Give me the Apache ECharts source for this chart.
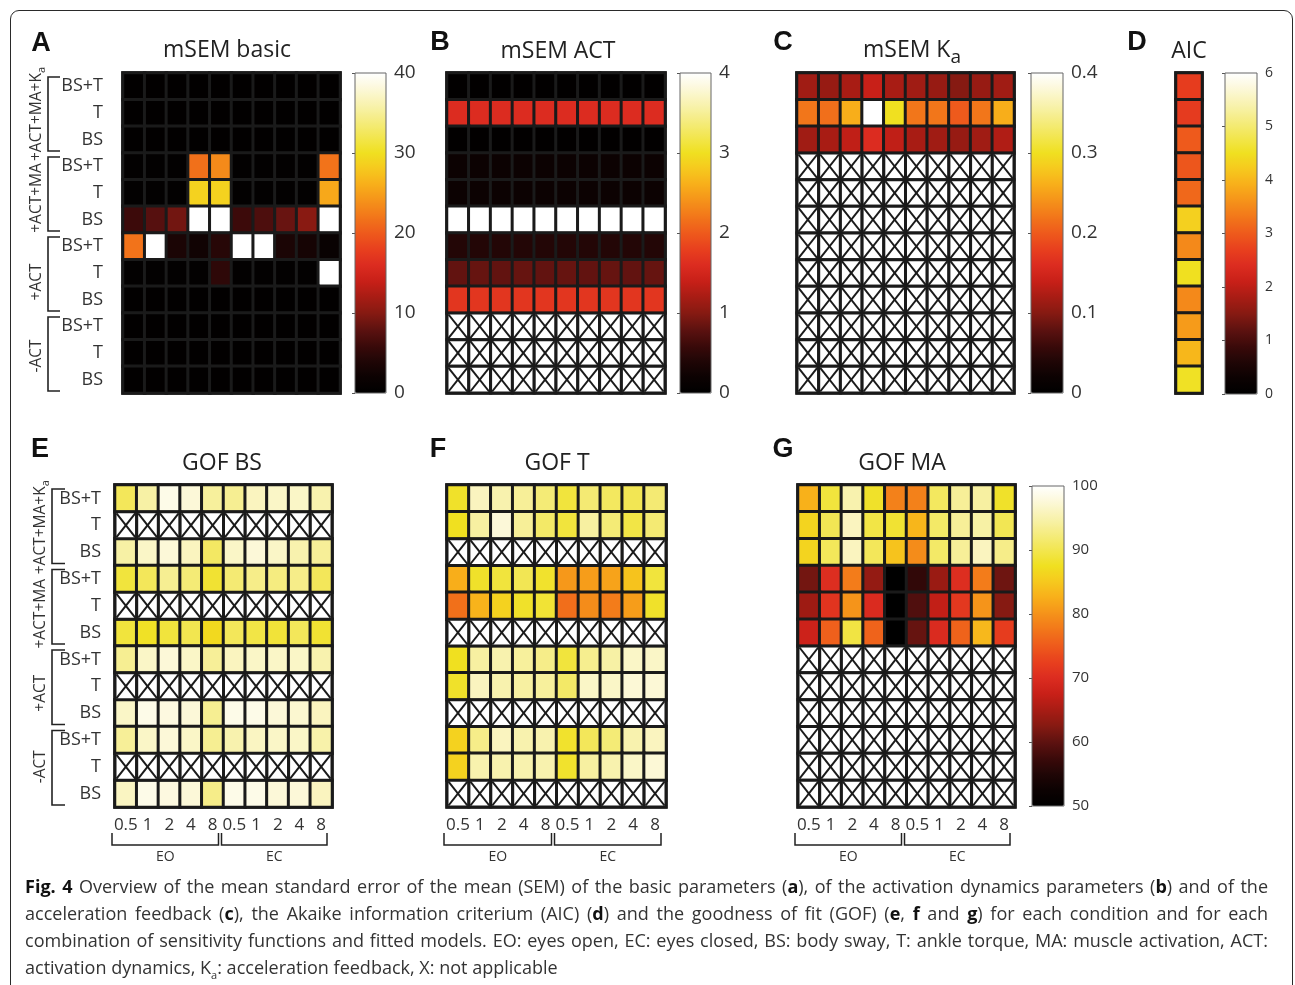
<!DOCTYPE html>
<html><head><meta charset="utf-8">
<script src="https://cdn.jsdelivr.net/npm/echarts@6/dist/echarts.min.js"></script>
<style>
html,body{margin:0;padding:0;background:#fff;}
#chart{position:absolute;left:0;top:0;width:1295px;height:985px;}
#frame{position:absolute;left:10px;top:10px;width:1283px;height:985px;border:1.5px solid #2a2a2a;border-radius:9px;box-sizing:border-box;pointer-events:none;}
#caption{position:absolute;left:25px;top:873px;width:1243px;font-family:'Open Sans',sans-serif;color:#333;font-size:17px;}
.ln{white-space:nowrap;text-align:justify;text-align-last:justify;height:27px;line-height:27px;}
.ln.last{text-align-last:left;}
.ln b{color:#111;}
.ln sub{font-size:11px;line-height:0;}
</style></head>
<body>
<div id="chart"></div>
<div id="frame"></div>
<div id="caption">
<div class="ln"><b>Fig. 4</b> Overview of the mean standard error of the mean (SEM) of the basic parameters (<b>a</b>), of the activation dynamics parameters (<b>b</b>) and of the</div>
<div class="ln">acceleration feedback (<b>c</b>), the Akaike information criterium (AIC) (<b>d</b>) and the goodness of fit (GOF) (<b>e</b>, <b>f</b> and <b>g</b>) for each condition and for each</div>
<div class="ln">combination of sensitivity functions and fitted models. EO: eyes open, EC: eyes closed, BS: body sway, T: ankle torque, MA: muscle activation, ACT:</div>
<div class="ln last">activation dynamics, K<sub>a</sub>: acceleration feedback, X: not applicable</div>
</div>
<script>
// ---------------- DATA ----------------
const colLabels = ['0.5','1','2','4','8','0.5','1','2','4','8'];
const conditionLabels = ['EO','EC'];
const rowLabels = ['BS+T','T','BS','BS+T','T','BS','BS+T','T','BS','BS+T','T','BS'];
const groupLabels = ['+ACT+MA+K{s|a}','+ACT+MA','+ACT','-ACT'];
const panelTitles = ['mSEM basic','mSEM ACT','mSEM K{s|a}','AIC','GOF BS','GOF T','GOF MA'];
const panelLetters = ['A','B','C','D','E','F','G'];

const ticksBasic = [0,10,20,30,40];
const ticksAct = [0,1,2,3,4];
const ticksKa = [0,0.1,0.2,0.3,0.4];
const ticksAic = [0,1,2,3,4,5,6];
const ticksGof = [50,60,70,80,90,100];

// null = not applicable (X)
const semBasic = [
  [0.3,0.3,0.3,0.3,0.3,0.3,0.3,0.3,0.3,0.3],
  [0.3,0.3,0.3,0.3,0.3,0.3,0.3,0.3,0.3,0.3],
  [0.3,0.3,0.3,0.3,0.3,0.3,0.3,0.3,0.3,0.3],
  [0.5,0.5,0.5,21.6,23.4,0.5,0.5,0.5,0.5,21.8],
  [0.5,0.5,0.5,28.8,28.8,0.5,0.5,0.5,0.5,25.6],
  [6,7.5,9,40,40,6,7,8.5,10.2,40],
  [21.8,40,3.5,2.5,4.5,40,40,3.5,3,1.5],
  [0.5,0.5,0.5,0.5,5,0.5,0.5,0.5,0.5,40],
  [0.3,0.3,0.3,0.3,0.3,0.3,0.3,0.3,0.3,0.3],
  [0.3,0.3,0.3,0.3,0.3,0.3,0.3,0.3,0.3,0.3],
  [0.3,0.3,0.3,0.3,0.3,0.3,0.3,0.3,0.3,0.3],
  [0.3,0.3,0.3,0.3,0.3,0.3,0.3,0.3,0.3,0.3]
];
const semAct = [
  [0.03,0.03,0.03,0.03,0.03,0.03,0.03,0.03,0.03,0.03],
  [1.6,1.6,1.6,1.6,1.6,1.6,1.6,1.6,1.6,1.6],
  [0.04,0.04,0.04,0.04,0.04,0.04,0.04,0.04,0.04,0.04],
  [0.2,0.2,0.2,0.2,0.2,0.2,0.2,0.2,0.2,0.2],
  [0.2,0.2,0.2,0.2,0.2,0.2,0.2,0.2,0.2,0.2],
  [4,4,4,4,4,4,4,4,4,4],
  [0.42,0.42,0.42,0.42,0.42,0.42,0.42,0.42,0.42,0.42],
  [0.82,0.84,0.82,0.84,0.82,0.84,0.82,0.84,0.82,0.84],
  [1.7,1.7,1.7,1.7,1.7,1.7,1.7,1.7,1.7,1.7],
  [null,null,null,null,null,null,null,null,null,null],
  [null,null,null,null,null,null,null,null,null,null],
  [null,null,null,null,null,null,null,null,null,null]
];
const semKa = [
  [0.115,0.11,0.12,0.14,0.12,0.115,0.11,0.10,0.11,0.115],
  [0.22,0.215,0.26,0.4,0.30,0.22,0.22,0.20,0.22,0.26],
  [0.115,0.12,0.135,0.16,0.135,0.12,0.115,0.11,0.115,0.125],
  [null,null,null,null,null,null,null,null,null,null],
  [null,null,null,null,null,null,null,null,null,null],
  [null,null,null,null,null,null,null,null,null,null],
  [null,null,null,null,null,null,null,null,null,null],
  [null,null,null,null,null,null,null,null,null,null],
  [null,null,null,null,null,null,null,null,null,null],
  [null,null,null,null,null,null,null,null,null,null],
  [null,null,null,null,null,null,null,null,null,null],
  [null,null,null,null,null,null,null,null,null,null]
];
const aic = [2.64,2.62,3.0,2.95,3.15,4.3,3.5,4.5,3.5,3.7,4.0,4.53];
const gofBS = [
  [90.5,94.5,98.5,97.5,94,93.5,96,96.5,96.5,95],
  [null,null,null,null,null,null,null,null,null,null],
  [94.5,96.5,97.5,96,91,96.5,97.5,96.5,95,93.8],
  [89,90.5,93.5,92,88.5,91.8,93,92.5,93,90.5],
  [null,null,null,null,null,null,null,null,null,null],
  [89,87.8,89,90,86.8,90.5,89.5,88.8,90.5,88.5],
  [93.5,96.5,97.5,96.5,93.8,96,96.5,96.5,96.5,95],
  [null,null,null,null,null,null,null,null,null,null],
  [96.5,98.5,98,97.5,93.5,98.5,98.5,97.5,97,96],
  [93.8,96.5,97.5,96.5,93.5,95,96.2,96.5,96.5,94.8],
  [null,null,null,null,null,null,null,null,null,null],
  [96.2,98.5,98,97.5,93,98.5,98.5,97.5,97.5,96]
];
const gofT = [
  [88,96,95,93.8,92,89,91.8,90.8,90.2,91.8],
  [87.5,94.3,97.5,93.8,91.2,89,94.3,92,89.5,91.8],
  [null,null,null,null,null,null,null,null,null,null],
  [82.5,88,89,90.2,88.2,80.5,81,81.5,84.5,89],
  [77,83,86,88,88.6,76.8,79.5,78,81,88],
  [null,null,null,null,null,null,null,null,null,null],
  [87.5,94.3,95,94,93,89,93.3,94.5,96.5,96.5],
  [88,96,95,94.3,94,91.2,96.5,96.5,97.4,97.4],
  [null,null,null,null,null,null,null,null,null,null],
  [86,93,96,95,95,88.2,90.5,92,95,96],
  [86,95,95,95,95,88.2,94.3,95,96.5,97.4],
  [null,null,null,null,null,null,null,null,null,null]
];
const gofMA = [
  [82.8,89,95,88,78.5,78.5,90.8,93.8,94.3,88],
  [86.2,90.2,96,89.5,88.5,83.3,91.2,93.8,94.5,90.2],
  [86.2,90.5,96,90.5,84.5,79.5,91.2,93.8,96,93],
  [61.3,70.2,78,63.5,50,56.5,64,70.2,78,61],
  [64.3,71,80.2,69.8,50,59,67,71.5,80.2,62.5],
  [68,75.5,89.3,75.8,50,60.5,69.8,75.8,83.5,72],
  [null,null,null,null,null,null,null,null,null,null],
  [null,null,null,null,null,null,null,null,null,null],
  [null,null,null,null,null,null,null,null,null,null],
  [null,null,null,null,null,null,null,null,null,null],
  [null,null,null,null,null,null,null,null,null,null],
  [null,null,null,null,null,null,null,null,null,null]
];

// ---------------- STYLE / LAYOUT ----------------
const hot = ['#000000','#0c0202','#200606','#3c0a0a','#5e1210','#861a12','#a81c14','#c82018','#dc2c20','#e8401e','#ee5a1c','#f2761a','#f5921a','#f8ae1a','#f6c81e','#f0e020','#f2e650','#f5ec80','#f8f2ae','#fcf8d8','#ffffff'];
const FONT = "'Open Sans', 'Noto Sans', sans-serif";
const TXT = '#333';
const CELL_LINE = '#1a1a1a';

const boxes = [
  {l:123,t:73,w:217,h:320},  // A
  {l:447,t:73,w:218,h:320},  // B
  {l:797,t:73,w:217,h:320},  // C
  {l:1176,t:73,w:26,h:320},  // D
  {l:115,t:485,w:217,h:322}, // E
  {l:447,t:485,w:219,h:322}, // F
  {l:798,t:485,w:217,h:322}  // G
];
const bars = [
  {l:355,t:73,w:31,h:320,ticks:ticksBasic,fs:19,series:[0]},
  {l:680,t:73,w:31,h:320,ticks:ticksAct,fs:19,series:[1]},
  {l:1031,t:73,w:32,h:320,ticks:ticksKa,fs:19,series:[2]},
  {l:1225,t:73,w:32,h:321,ticks:ticksAic,fs:14,series:[3]},
  {l:1032,t:486,w:32,h:320,ticks:ticksGof,fs:15,series:[4,5,6]}
];
const titlePos = [[227,50],[558,51],[912,50],[1189,51],[222,463],[557,463],[902,463]];
const letterPos = [[41,44],[440,43],[783,43],[1137,43],[40,450],[438,450],[783,450]];

const tables = [semBasic, semAct, semKa, aic.map(v=>[v]), gofBS, gofT, gofMA];

// ---------------- BUILD ----------------
const grid = [], xAxis = [], yAxis = [], series = [], visualMap = [], graphic = [];

function cellData(tbl){
  const d = [], na = [];
  tbl.forEach((row, r) => row.forEach((v, c) => {
    if (v === null) na.push([c, r]); else d.push([c, r, v]);
  }));
  return {d, na};
}

tables.forEach((tbl, i) => {
  const b = boxes[i];
  grid.push({left:b.l, top:b.t, width:b.w, height:b.h, show:true, backgroundColor:CELL_LINE, borderColor:CELL_LINE, borderWidth:3.5, containLabel:false});
  const isD = i === 3;
  const showX = i >= 4;
  const showY = (i === 0 || i === 4);
  xAxis.push({type:'category', gridIndex:i, data: isD ? ['AIC'] : colLabels.map((c,k)=>k+':'+c),
    axisLine:{show:false}, axisTick:{show:false}, splitLine:{show:false},
    axisLabel:{show:showX, interval:0, margin:10, fontSize:17, fontFamily:FONT, color:TXT,
      formatter:(v, idx)=>colLabels[idx]}});
  yAxis.push({type:'category', gridIndex:i, inverse:true, data: rowLabels.map((r,k)=>k+':'+r),
    axisLine:{show:false}, axisTick:{show:false}, splitLine:{show:false},
    axisLabel:{show:showY, interval:0, margin: i===0 ? 20 : 14, fontSize:18, fontFamily:FONT, color:TXT,
      formatter:(v, idx)=>rowLabels[idx]}});
});

tables.forEach((tbl, i) => {
  const {d} = cellData(tbl);
  series.push({type:'heatmap', xAxisIndex:i, yAxisIndex:i, data:d,
    itemStyle:{borderColor:CELL_LINE, borderWidth:3}, emphasis:{disabled:true}, silent:true, z:2});
});
tables.forEach((tbl, i) => {
  const {na} = cellData(tbl);
  if (!na.length) return;
  series.push({type:'custom', xAxisIndex:i, yAxisIndex:i, data:na, silent:true, z:3,
    renderItem:(params, api) => {
      const c = api.coord([api.value(0), api.value(1)]);
      const s = api.size([1, 1]);
      const x0 = c[0] - s[0]/2, y0 = c[1] - s[1]/2;
      const ins = 1.5;
      return {type:'group', children:[
        {type:'rect', shape:{x:x0, y:y0, width:s[0], height:s[1]}, style:{fill:'#fff', stroke:CELL_LINE, lineWidth:3}},
        {type:'line', shape:{x1:x0+ins, y1:y0+ins, x2:x0+s[0]-ins, y2:y0+s[1]-ins}, style:{stroke:CELL_LINE, lineWidth:2}},
        {type:'line', shape:{x1:x0+s[0]-ins, y1:y0+ins, x2:x0+ins, y2:y0+s[1]-ins}, style:{stroke:CELL_LINE, lineWidth:2}}
      ]};
    }});
});

// colour bars
bars.forEach((cb, k) => {
  const gi = grid.length;
  const mn = cb.ticks[0], mx = cb.ticks[cb.ticks.length-1];
  visualMap.push({type:'continuous', min:mn, max:mx, seriesIndex:cb.series, calculable:false, hoverLink:false,
    orient:'vertical', left:cb.l, top:cb.t, itemWidth:cb.w, itemHeight:cb.h, padding:0, text:null,
    inRange:{color:hot}, outOfRange:{color:hot}});
  grid.push({left:cb.l, top:cb.t, width:cb.w, height:cb.h, show:false});
  xAxis.push({type:'value', gridIndex:gi, show:false});
  yAxis.push({type:'value', gridIndex:gi, position:'right', min:mn, max:mx, interval:cb.ticks[1]-cb.ticks[0],
    axisLine:{show:false}, splitLine:{show:false},
    axisTick:{show:true, inside:true, length:3, lineStyle:{color:'#555'}},
    axisLabel:{show:true, margin:8, fontSize:cb.fs, fontFamily:FONT, color:TXT,
      formatter:(v)=>String(+v.toFixed(2))}});
  graphic.push({type:'rect', z:100, shape:{x:cb.l, y:cb.t, width:cb.w, height:cb.h}, style:{fill:null, stroke:'#666', lineWidth:1}});
});

// titles and letters
panelTitles.forEach((t, i) => {
  graphic.push({type:'text', x:titlePos[i][0], y:titlePos[i][1], z:100,
    style:{text:t, fontSize:23, fontFamily:FONT, fill:'#222', align:'center', verticalAlign:'middle', textAlign:'center', textVerticalAlign:'middle',
      rich:{s:{fontSize:19, fontFamily:FONT, fill:'#222', verticalAlign:'bottom', padding:[16,0,0,0]}}}});
  graphic.push({type:'text', x:letterPos[i][0], y:letterPos[i][1], z:100,
    style:{text:panelLetters[i], fontSize:27, fontWeight:'bold', fontFamily:"'Liberation Sans', Arial, sans-serif", fill:'#111', align:'center', verticalAlign:'middle', textAlign:'center', textVerticalAlign:'middle'}});
});

// row group brackets (A and E)
[[0,48,60,37,[1,5,9,3]],[4,52,65,41,[2,8,7,0]]].forEach(([pi, xv, xt, xl, offs]) => {
  const b = boxes[pi];
  const gh = b.h / groupLabels.length;
  groupLabels.forEach((g, k) => {
    const y1 = b.t + k*gh + 4, y2 = b.t + (k+1)*gh - 2;
    graphic.push({type:'polyline', z:100, shape:{points:[[xt,y1],[xv,y1],[xv,y2],[xt,y2]]}, style:{stroke:'#222', lineWidth:1.6, fill:null}});
    graphic.push({type:'text', x:xl, y:b.t + (k+0.5)*gh + offs[k], rotation:Math.PI/2, z:100,
      style:{text:g, fontSize:15.5, fontFamily:FONT, fill:TXT, align:'center', verticalAlign:'middle', textAlign:'center', textVerticalAlign:'middle',
        rich:{s:{fontSize:11, fontFamily:FONT, fill:TXT, verticalAlign:'bottom', padding:[9,0,0,0]}}}});
  });
});

// condition brackets (E, F, G)
[4,5,6].forEach(pi => {
  const b = boxes[pi];
  const mid = b.l + b.w/2;
  const spans = [[b.l-3, mid-5],[mid-2, b.l+b.w-5]];
  spans.forEach((sp, k) => {
    graphic.push({type:'polyline', z:100, shape:{points:[[sp[0],833],[sp[0],845],[sp[1],845],[sp[1],833]]}, style:{stroke:'#222', lineWidth:1.5, fill:null}});
    graphic.push({type:'text', x:(sp[0]+sp[1])/2, y:857, z:100,
      style:{text:conditionLabels[k], fontSize:14, fontFamily:FONT, fill:TXT, align:'center', verticalAlign:'middle', textAlign:'center', textVerticalAlign:'middle'}});
  });
});

const chart = echarts.init(document.getElementById('chart'), null, {renderer:'canvas'});
chart.setOption({animation:false, backgroundColor:'#fff', grid, xAxis, yAxis, visualMap, series, graphic});

// fit caption lines to the box width
(function(){
  const cap = document.getElementById('caption');
  const lines = cap.querySelectorAll('.ln');
  let maxW = 0;
  lines.forEach(l => {
    const s = document.createElement('span');
    s.style.whiteSpace = 'nowrap';
    s.innerHTML = l.innerHTML;
    s.style.visibility = 'hidden';
    s.style.position = 'absolute';
    cap.appendChild(s);
    maxW = Math.max(maxW, s.getBoundingClientRect().width);
    cap.removeChild(s);
  });
  const fs = 17 * Math.min(1.06, 1238 / maxW);
  cap.style.fontSize = fs.toFixed(2) + 'px';
})();
</script>
</body></html>
